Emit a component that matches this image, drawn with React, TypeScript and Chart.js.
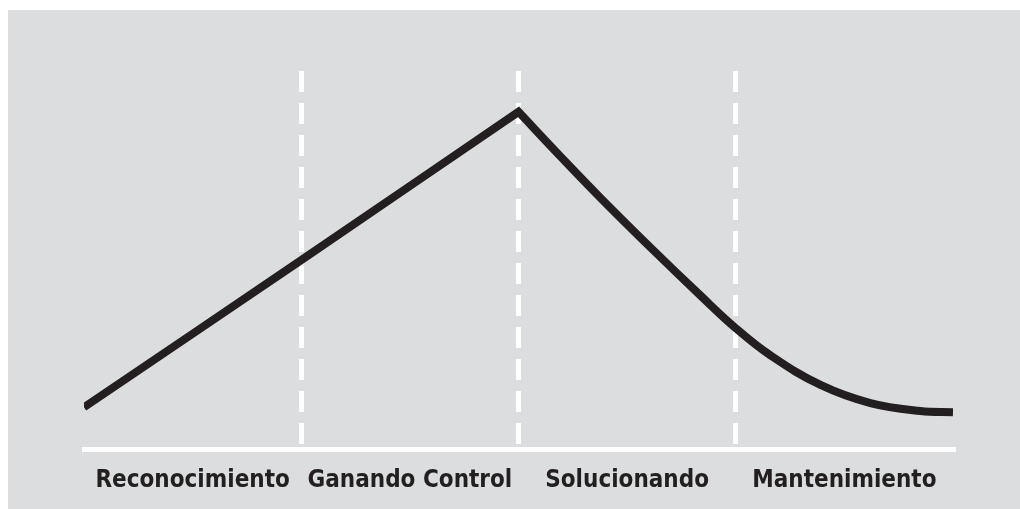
import React, { useEffect, useRef } from "react";
import { Chart, registerables } from "chart.js";

Chart.register(...registerables);

// Phase names, centred in each segment of the x axis
const categories = ["Reconocimiento", "Ganando Control", "Solucionando", "Mantenimiento"];
// Positions of the label ticks (segment centres)
const labelTicks = [0.5, 1.5, 2.5, 3.5];
// Phase boundaries (dashed separators)
const boundaries = [1, 2, 3];
// Curve samples (x in phase units, y in 0-100 level)
const curveX = [0, 1, 2, 2, 2.19, 2.38, 2.61, 2.84, 3.0, 3.16, 3.39, 3.62, 3.85, 4.0];
const curveY = [11.1, 50, 89.2, 89.2, 77.6, 66.3, 53.2, 40.5, 32.0, 24.8, 17.0, 12.2, 10.1, 9.8];

const INK = "#231f20";
const BG = "#dcdddf";

export default function App() {
  const ref = useRef<HTMLCanvasElement | null>(null);

  useEffect(() => {
    if (!ref.current) return;
    const allTicks = [0, 4, ...boundaries, ...labelTicks].sort((a, b) => a - b);
    const chart = new Chart(ref.current, {
      type: "line",
      data: {
        datasets: [
          {
            data: curveX.map((x, i) => ({ x, y: curveY[i] })),
            borderColor: INK,
            borderWidth: 8,
            borderJoinStyle: "miter",
            borderCapStyle: "butt",
            tension: 0.4,
            pointRadius: 0,
            pointHoverRadius: 0,
            fill: false,
          },
        ],
      },
      options: {
        animation: false,
        responsive: true,
        maintainAspectRatio: false,
        events: [],
        layout: { padding: { left: 76, right: 67, top: 61, bottom: -3 } },
        plugins: { legend: { display: false }, tooltip: { enabled: false } },
        scales: {
          x: {
            type: "linear",
            min: 0,
            max: 4,
            afterBuildTicks: (scale: any) => {
              scale.ticks = allTicks.map((v) => ({ value: v }));
            },
            grid: {
              color: (ctx: any) =>
                ctx.tick && boundaries.includes(ctx.tick.value) ? "#ffffff" : "rgba(0,0,0,0)",
              lineWidth: 5,
              drawTicks: false,
            },
            border: { display: true, color: "#ffffff", width: 5, dash: [21, 11] },
            ticks: {
              autoSkip: false,
              maxRotation: 0,
              padding: 17,
              color: INK,
              font: {
                family: "'DejaVu Sans Condensed', 'DejaVu Sans', sans-serif",
                size: 24,
                weight: "bold",
              },
              callback: (value: any) => {
                const idx = labelTicks.indexOf(Number(value));
                return idx >= 0 ? categories[idx] : "";
              },
            },
          },
          y: { display: false, min: 0, max: 100 },
        },
      },
    });
    return () => chart.destroy();
  }, []);

  return (
    <div
      style={{
        position: "fixed",
        left: 8,
        top: 10,
        width: 1012,
        height: 499,
        background: BG,
      }}
    >
      <canvas ref={ref} />
    </div>
  );
}
